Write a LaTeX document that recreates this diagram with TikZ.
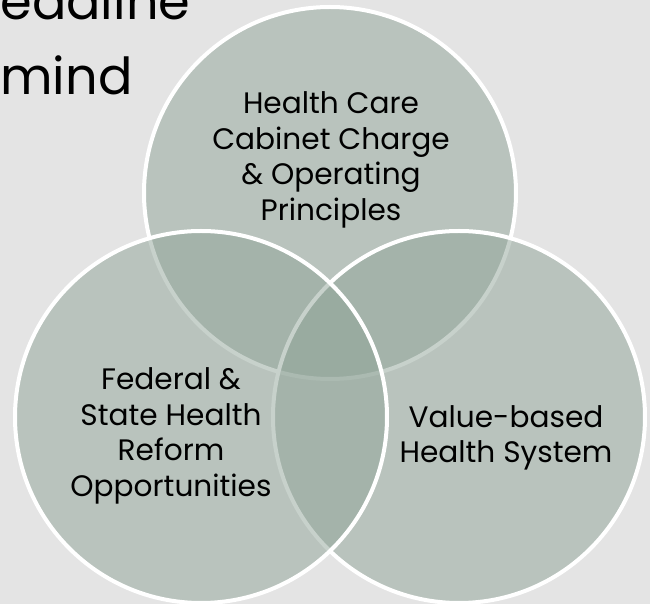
\documentclass[tikz,border=0pt]{standalone}
\usepackage{fontspec}
\setmainfont{Poppins}
\definecolor{slidebg}{HTML}{E4E4E4}
\definecolor{vennfill}{HTML}{90A498}
\tikzset{
  venn/.style={fill=vennfill, fill opacity=0.5, draw=white, line width=2pt},
  venntext/.style={align=center, inner sep=0pt, font=\fontsize{14.8}{17.75}\selectfont},
  headtext/.style={anchor=base west, inner sep=0pt, font=\fontsize{25.5}{30}\selectfont}
}
\begin{document}
\begin{tikzpicture}[x=0.5pt,y=-0.5pt]
  \useasboundingbox (0,0) rectangle (650,604);
  \fill[slidebg] (0,0) rectangle (650,604);
  \clip (0,0) rectangle (650,604);
  % what is left of the slide title
  \node[headtext] (head1) at (0,20) {eadline};
  \node[headtext] (head2) at (0,95) {mind};
  % the three circles
  \draw[venn] (330,193) circle[radius=186];
  \draw[venn] (459,417) circle[radius=186];
  \draw[venn] (201,417) circle[radius=186];
  % their texts
  \node[venntext] (care) at (331,160) {Health Care\\Cabinet Charge\\\& Operating\\Principles};
  \node[venntext] (reform) at (171,436) {Federal \&\\State Health\\Reform\\Opportunities};
  \node[venntext] (value) at (506,438) {Value-based\\Health System};
\end{tikzpicture}
\end{document}
